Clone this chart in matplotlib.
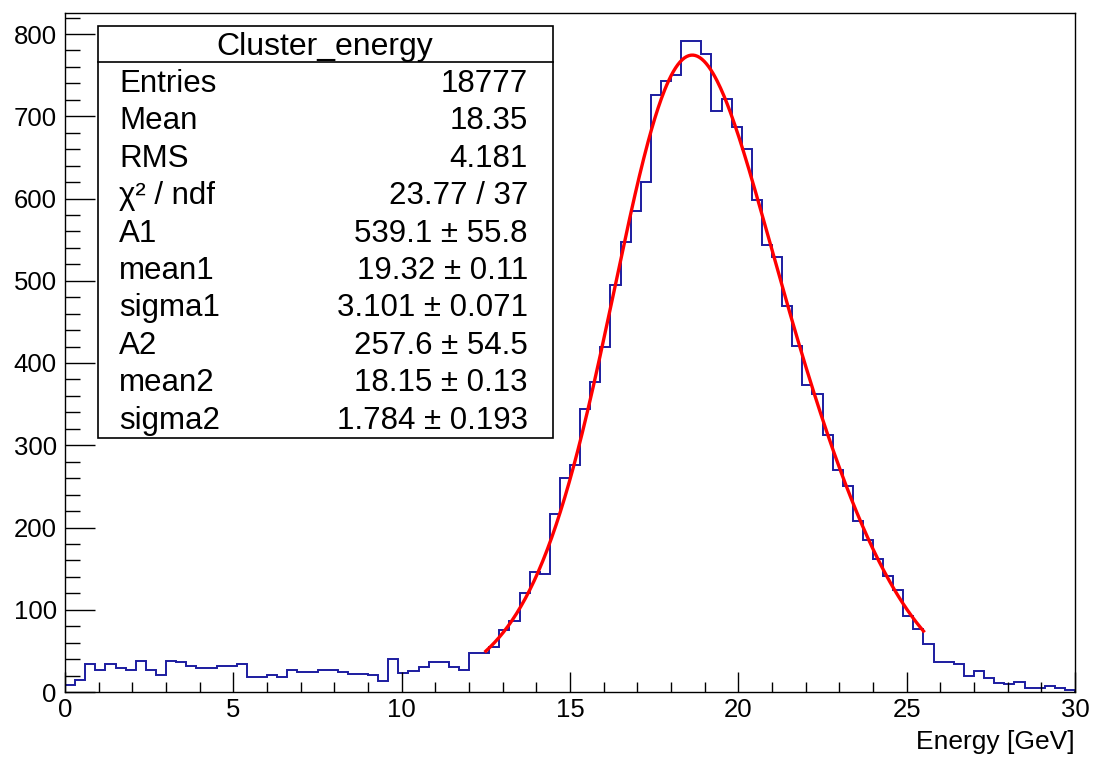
import numpy as np
import matplotlib
matplotlib.use("Agg")
import matplotlib.pyplot as plt
from matplotlib.patches import Rectangle
from matplotlib.lines import Line2D
from matplotlib.ticker import MultipleLocator

plt.rcParams['font.family'] = ['Liberation Sans', 'DejaVu Sans']

# histogram: 100 bins from 0 to 30 GeV
x_min, x_max, n_bins = 0.0, 30.0, 100
counts = [9, 14, 34, 27, 34, 29, 27, 38, 27, 21, 38, 36, 32, 29, 29, 32,
          32, 34, 18, 18, 21, 18, 27, 24, 24, 27, 27, 24, 22, 22, 21, 13,
          40, 23, 25, 31, 36, 36, 31, 27, 47, 47, 55, 75, 86, 120, 146, 144,
          216, 260, 276, 344, 377, 419, 495, 547, 585, 620, 726, 743, 750, 792,
          792, 776, 706, 721, 687, 660, 598, 543, 529, 469, 421, 373, 362, 313,
          270, 250, 208, 185, 162, 141, 124, 93, 77, 58, 36, 36, 34, 20,
          25, 17, 11, 10, 12, 5, 5, 7, 5, 2]

# double gaussian fit, parameters from the stats box
fit_range = (12.5, 25.5)
amp = [539.1, 257.6]
mu = [19.32, 18.15]
sig = [3.101, 1.784]

stat_names = ["Entries", "Mean", "RMS", "χ² / ndf", "A1", "mean1", "sigma1",
              "A2", "mean2", "sigma2"]
stat_values = ["18777", "18.35", "4.181", "23.77 / 37", "539.1 ± 55.8",
               "19.32 ± 0.11", "3.101 ± 0.071", "257.6 ± 54.5",
               "18.15 ± 0.13", "1.784 ± 0.193"]

W, H = 1094, 758
fig = plt.figure(figsize=(W / 100, H / 100), dpi=100)
ax = fig.add_axes([65 / W, 1 - 692 / H, 1010 / W, (692 - 13) / H])

edges = np.linspace(x_min, x_max, n_bins + 1)
ax.stairs(counts, edges, color='#1c1ca0', lw=1.4)

xf = np.linspace(fit_range[0], fit_range[1], 400)
yf = sum(a * np.exp(-0.5 * ((xf - m) / s) ** 2) for a, m, s in zip(amp, mu, sig))
ax.plot(xf, yf, color='red', lw=2.4)

ax.set_xlim(x_min, x_max)
ax.set_ylim(0, (692 - 13) / 0.8225)
ax.xaxis.set_major_locator(MultipleLocator(5))
ax.xaxis.set_minor_locator(MultipleLocator(1))
ax.yaxis.set_major_locator(MultipleLocator(100))
ax.yaxis.set_minor_locator(MultipleLocator(20))
ax.tick_params(axis='both', which='both', direction='in', width=1.0,
               top=False, right=False, labelsize=18.5)
ax.tick_params(axis='x', which='major', length=14.4, pad=4)
ax.tick_params(axis='x', which='minor', length=7.2)
ax.tick_params(axis='y', which='major', length=21.6, pad=6)
ax.tick_params(axis='y', which='minor', length=10.8)
for sp in ax.spines.values():
    sp.set_linewidth(1.0)

fig.text(1075 / W, 1 - 749 / H, "Energy [GeV]", ha='right', va='baseline',
         fontsize=19)

# stats box
bx0, by0, bx1, by1 = 97.5, 26, 552.5, 438
fig.patches.append(Rectangle((bx0 / W, 1 - by1 / H), (bx1 - bx0) / W,
                             (by1 - by0) / H, transform=fig.transFigure,
                             facecolor='white', edgecolor='black', lw=1.2,
                             zorder=5))
fig.lines.append(Line2D([bx0 / W, bx1 / W], [1 - 62 / H, 1 - 62 / H],
                        transform=fig.transFigure, color='black', lw=1.2,
                        zorder=6))
fig.text((bx0 + bx1) / 2 / W, 1 - 55 / H, "Cluster_energy", ha='center',
         va='baseline', fontsize=23, zorder=7)
for i, (name, val) in enumerate(zip(stat_names, stat_values)):
    yb = 1 - (92 + i * 37.4) / H
    fig.text(119 / W, yb, name, ha='left', va='baseline', fontsize=22.5, zorder=7)
    fig.text(528 / W, yb, val, ha='right', va='baseline', fontsize=22.5, zorder=7)

fig.savefig("out.png", dpi=100)
